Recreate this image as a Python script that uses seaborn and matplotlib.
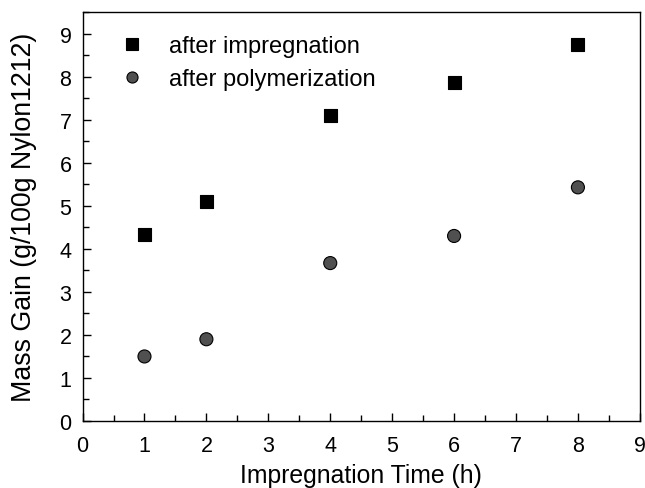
import matplotlib
matplotlib.use("Agg")
import matplotlib.pyplot as plt
import seaborn as sns
import pandas as pd
from matplotlib.ticker import MultipleLocator

sns.set_theme(style="ticks")
plt.rcParams['font.family'] = ['Liberation Sans', 'DejaVu Sans']
plt.rcParams['text.color'] = 'black'
plt.rcParams['axes.labelcolor'] = 'black'
plt.rcParams['xtick.color'] = 'black'
plt.rcParams['ytick.color'] = 'black'

# Values
times = [1, 2, 4, 6, 8]
after_impregnation = [4.33, 5.10, 7.10, 7.87, 8.75]
after_polymerization = [1.50, 1.90, 3.67, 4.30, 5.43]
series_names = ['after impregnation', 'after polymerization']

df = pd.DataFrame({
    'time': times * 2,
    'gain': after_impregnation + after_polymerization,
    'series': [series_names[0]] * len(times) + [series_names[1]] * len(times),
})

fig = plt.figure(figsize=(6.45, 4.89), dpi=100)
ax = fig.add_axes([0.128, 0.137, 0.864, 0.836])

sns.scatterplot(data=df, x='time', y='gain', hue='series', style='series',
                palette={series_names[0]: 'black', series_names[1]: '#505050'},
                markers={series_names[0]: 's', series_names[1]: 'o'},
                s=88, edgecolor='black', linewidth=0.8, ax=ax)

ax.set_xlim(0, 9)
ax.set_ylim(0, 9.5)
ax.xaxis.set_major_locator(MultipleLocator(1))
ax.xaxis.set_minor_locator(MultipleLocator(0.5))
ax.yaxis.set_major_locator(MultipleLocator(1))
ax.yaxis.set_minor_locator(MultipleLocator(0.5))
ax.tick_params(which='both', direction='in', top=False, right=False, labelsize=15.5)
ax.tick_params(axis='x', pad=10)
ax.tick_params(axis='y', pad=8)
ax.tick_params(which='major', length=6, width=1)
ax.tick_params(which='minor', length=4, width=1)
for sp in ax.spines.values():
    sp.set_linewidth(1.0)
    sp.set_color('black')

ax.set_xlabel('Impregnation Time (h)', fontsize=17.8, labelpad=5)
ax.set_ylabel('Mass Gain (g/100g Nylon1212)', fontsize=19.3, labelpad=16)

ax.legend(loc='upper left', bbox_to_anchor=(0.009, 0.995), frameon=False,
          fontsize=17, markerscale=0.85, handletextpad=0.55, labelspacing=0.45)

fig.savefig('out.png', dpi=100)
